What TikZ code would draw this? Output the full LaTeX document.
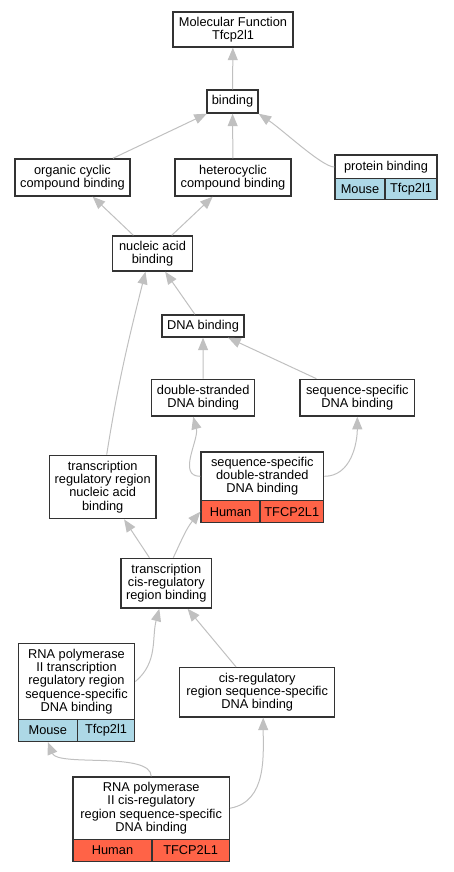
\documentclass[tikz,border=0pt]{standalone}
\usepackage{fontspec}
\setmainfont{Liberation Sans}
\usetikzlibrary{arrows.meta}
\definecolor{edgegray}{HTML}{C0C0C0}
\definecolor{mouseblue}{HTML}{ADD8E6}
\definecolor{humanred}{HTML}{FF6347}
\definecolor{boxline}{HTML}{333333}
\begin{document}
\begin{tikzpicture}[x=1pt,y=-1pt,>={Triangle[length=12.5pt,width=10pt]},
	font=\fontsize{12.8}{13.3}\selectfont,
	term/.style={draw=boxline,line width=1.4pt,fill=white,inner sep=0pt,align=center},
	cell/.style={term,fill=#1},
	edge/.style={draw=edgegray,line width=1pt,->}]
	\useasboundingbox (0,0) rectangle (453,872);
	% terms
	\node[term,minimum width=120,minimum height=35] (mf) at (233,29.5) {Molecular Function\\Tfcp2l1};
	\node[term,minimum width=51,minimum height=23] (bind) at (232.5,101.5) {binding};
	\node[term,minimum width=115,minimum height=37] (ocb) at (72.5,177.5) {organic cyclic\\compound binding};
	\node[term,minimum width=116,minimum height=37] (hcb) at (233,177.5) {heterocyclic\\compound binding};
	\node[term,minimum width=102,minimum height=24] (prot) at (386,167) {protein binding};
	\node[cell=mouseblue,minimum width=50,minimum height=21] (protm) at (360,189) {Mouse};
	\node[cell=mouseblue,minimum width=52,minimum height=21] (protg) at (411,189) {Tfcp2l1};
	\node[term,minimum width=79.5,minimum height=35] (nab) at (152.5,253.5) {nucleic acid\\binding};
	\node[term,minimum width=82,minimum height=22] (dna) at (203,326) {DNA binding};
	\node[term,minimum width=103,minimum height=36.7] (dsdna) at (203.2,397.7) {double-stranded\\DNA binding};
	\node[term,minimum width=114.7,minimum height=36.7] (ssdna) at (357.3,397.7) {sequence-specific\\DNA binding};
	\node[term,minimum width=106.7,minimum height=63.4] (trnab) at (102.7,487) {transcription\\regulatory region\\nucleic acid\\binding};
	\node[term,minimum width=122.7,minimum height=48.7] (ssds) at (262.3,476.3) {sequence-specific\\double-stranded\\DNA binding};
	\node[cell=humanred,minimum width=59,minimum height=22] (ssdsh) at (230.5,511.7) {Human};
	\node[cell=humanred,minimum width=63.7,minimum height=22] (ssdsg) at (291.8,511.7) {TFCP2L1};
	\node[term,minimum width=90.7,minimum height=49.7] (tcis) at (166.3,583.2) {transcription\\cis-regulatory\\region binding};
	\node[term,minimum width=116.4,minimum height=76.4] (rnapt) at (76.5,681.5) {RNA polymerase\\II transcription\\regulatory region\\sequence-specific\\DNA binding};
	\node[cell=mouseblue,minimum width=59,minimum height=21.6] (rnaptm) at (47.8,730.5) {Mouse};
	\node[cell=mouseblue,minimum width=57.4,minimum height=21.6] (rnaptg) at (106,730.5) {Tfcp2l1};
	\node[term,minimum width=155,minimum height=49.3] (cisrs) at (257.2,692.3) {cis-regulatory\\region sequence-specific\\DNA binding};
	\node[term,minimum width=156.3,minimum height=62.3] (rnapc) at (151.2,808.2) {RNA polymerase\\II cis-regulatory\\region sequence-specific\\DNA binding};
	\node[cell=humanred,minimum width=79,minimum height=22] (rnapch) at (112.5,850.3) {Human};
	\node[cell=humanred,minimum width=77.3,minimum height=22] (rnapcg) at (190.7,850.3) {TFCP2L1};
	% is_a edges
	\foreach \a/\b in {bind/mf,ocb/bind,hcb/bind,nab/ocb,nab/hcb,dna/nab,dsdna/dna,ssdna/dna,tcis/trnab,cisrs/tcis}
	\draw[edge] (\a) -- (\b);
	\draw[edge] (prot.west) .. controls +(-12,0) and +(25,17) .. (bind.south east);
	\draw[edge] ([xshift=4]trnab.north) to[out=81,in=-104] ([xshift=-7]nab.south);
	\draw[edge] (ssds.west) to[out=180,in=-75] ([xshift=-10]dsdna.south);
	\draw[edge] (ssds.east) to[out=0,in=-90] (ssdna.south);
	\draw[edge] ([xshift=7]tcis.north) to[out=65,in=-130] (ssdsh.west);
	\draw[edge] (rnapt.east) to[out=40,in=-105] ([xshift=-7]tcis.south);
	\draw[edge] (rnapc.north) .. controls +(0,-25) and +(10,25) .. (rnaptm.south);
	\draw[edge] (rnapc.east) to[out=10,in=-90] ([xshift=6]cisrs.south);
\end{tikzpicture}
\end{document}
